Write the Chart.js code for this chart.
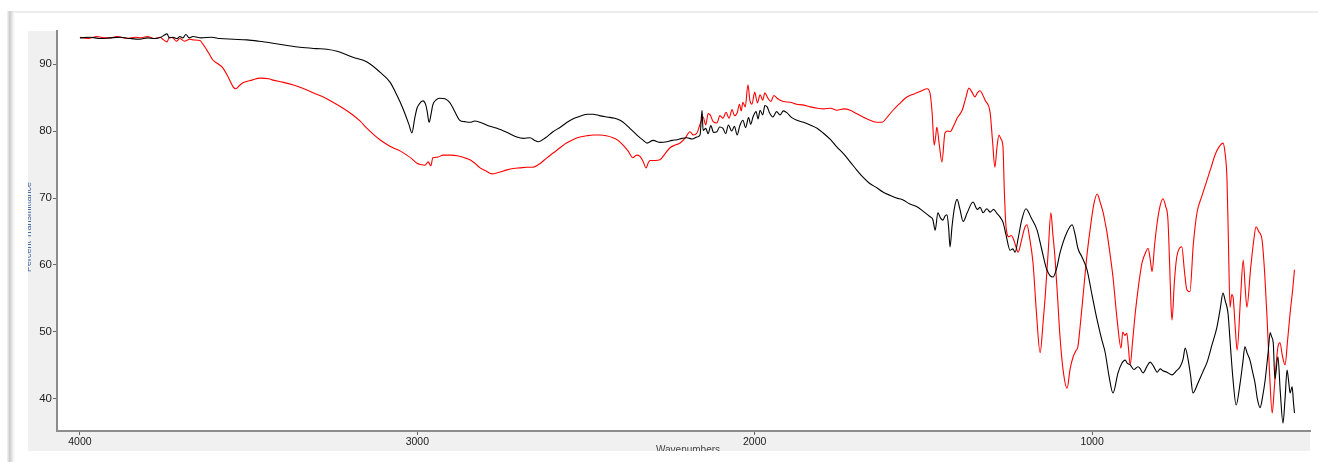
<!DOCTYPE html>
<html>
<head>
<meta charset="utf-8">
<script src="https://cdn.jsdelivr.net/npm/chart.js@4.4.1/dist/chart.umd.min.js"></script>
<style>
  html, body { margin: 0; padding: 0; background: #fff; overflow: hidden; }
  #wrap { position: absolute; left: 0; top: 0; width: 1318px; height: 462px; }
</style>
</head>
<body>
<div id="wrap"><canvas id="c" width="1318" height="462"></canvas></div>
<script>
// Sample spectrum (black trace): wavenumber (cm-1) and percent transmittance
const waveBlack = [4000,3970,3940,3911,3880,3850,3822,3800,3780,3760,3742,3735,3724,3712,3704,3695,3686,3676,3665,3640,3610,3585,3545,3505,3470,3428,3390,3348,3300,3268,3238,3191,3149,3111,3081,3060,3043,3025,3016,3008,3001,2990,2983,2975,2971,2965,2959,2954,2943,2933,2918,2903,2890,2874,2860,2844,2830,2814,2790,2764,2735,2705,2685,2666,2652,2642,2620,2598,2575,2556,2535,2518,2495,2479,2460,2438,2415,2399,2385,2370,2349,2330,2319,2301,2280,2260,2245,2230,2215,2201,2185,2171,2162,2156,2153,2145,2138,2130,2122,2112,2104,2094,2086,2078,2068,2060,2052,2044,2035,2027,2018,2012,2005,1996,1990,1984,1976,1970,1963,1955,1946,1935,1925,1915,1904,1890,1875,1855,1836,1815,1797,1775,1756,1735,1717,1698,1679,1660,1637,1620,1599,1580,1560,1540,1519,1500,1480,1472,1465,1457,1449,1442,1436,1430,1425,1421,1415,1408,1400,1392,1382,1370,1353,1340,1332,1323,1312,1302,1292,1282,1272,1264,1255,1243,1235,1228,1219,1208,1196,1180,1163,1150,1134,1116,1105,1095,1075,1059,1050,1042,1030,1015,1000,985,972,961,950,938,923,912,902,895,887,876,864,857,849,838,828,818,807,798,790,778,763,750,739,730,724,715,708,701,686,672,659,645,630,620,612,605,597,590,582,573,561,553,547,540,532,524,517,510,502,495,487,478,472,468,463,458,449,442,434,428,422,417,413,407,403,400];
const transBlack = [93.9,94.0,93.8,93.9,94.0,93.8,93.7,93.9,93.8,94.0,94.5,93.9,94.0,93.8,94.1,93.9,94.4,93.9,94.1,93.9,94.0,93.8,93.7,93.6,93.4,93.1,92.8,92.5,92.3,92.2,91.9,91.0,90.3,88.8,87.3,85.3,83.4,81.0,79.7,81.8,83.4,84.3,84.5,83.9,83.0,81.3,82.6,83.9,84.7,84.9,84.8,84.2,83.0,81.6,81.4,81.3,81.5,81.3,80.8,80.4,79.8,79.1,78.9,79.0,78.6,78.4,79.0,79.9,80.6,81.3,81.9,82.2,82.5,82.5,82.3,82.1,81.9,81.6,81.1,80.4,79.4,78.6,78.2,78.6,78.3,78.4,78.6,78.7,78.9,79.0,78.8,79.1,79.4,83.1,80.1,80.4,79.6,80.8,79.8,79.9,80.6,80.4,79.6,80.9,80.0,80.7,79.4,80.8,81.6,80.5,82.0,81.0,82.1,82.9,81.8,83.1,82.4,83.8,83.6,82.6,82.1,82.9,82.4,83.0,82.7,82.0,81.6,81.3,80.9,80.4,79.7,78.7,77.6,76.5,75.4,74.2,73.1,72.2,71.5,70.9,70.4,70.0,69.7,69.1,68.7,68.0,67.2,66.8,65.2,67.8,67.0,66.7,67.3,67.5,65.5,62.7,65.8,68.5,69.8,68.4,66.5,67.8,69.4,68.3,68.6,67.8,68.4,67.9,68.3,67.7,67.1,66.4,64.5,62.2,62.4,61.9,64.0,66.8,68.4,67.0,65.2,62.5,59.3,58.2,59.5,61.8,64.8,66.0,64.5,62.5,61.2,59.3,55.5,51.8,49.0,46.9,43.5,40.9,43.9,45.3,45.8,45.3,45.1,44.4,44.8,44.5,43.9,44.8,45.5,44.9,44.0,44.5,44.2,44.0,43.6,44.2,44.8,46.0,47.6,45.8,43.5,40.9,42.4,44.0,45.5,48.0,50.7,53.5,55.8,54.6,52.8,48.0,42.8,39.1,42.4,45.5,47.8,46.8,45.8,44.0,42.4,40.0,38.7,40.2,42.8,47.0,49.9,49.3,48.4,43.0,46.3,41.0,36.4,40.0,44.3,42.5,40.9,41.8,39.5,37.9];

// Reference spectrum (red trace)
const waveRed = [4000,3975,3950,3925,3911,3890,3860,3835,3822,3800,3780,3763,3752,3742,3735,3724,3714,3704,3690,3675,3665,3644,3636,3629,3618,3606,3590,3576,3560,3546,3538,3527,3517,3490,3466,3440,3428,3400,3369,3340,3309,3280,3250,3220,3191,3170,3149,3130,3111,3090,3072,3050,3031,3015,3001,2990,2977,2968,2960,2954,2940,2924,2900,2882,2860,2844,2830,2814,2795,2779,2760,2734,2715,2696,2675,2657,2635,2616,2595,2577,2558,2539,2518,2497,2478,2459,2440,2420,2405,2390,2375,2361,2350,2340,2331,2322,2315,2310,2295,2281,2266,2251,2236,2221,2205,2192,2182,2171,2162,2153,2145,2138,2132,2123,2112,2103,2094,2085,2076,2067,2060,2052,2045,2040,2035,2028,2020,2014,2008,2000,1992,1984,1976,1970,1963,1952,1943,1934,1915,1895,1876,1857,1835,1815,1795,1775,1756,1735,1717,1698,1679,1658,1637,1623,1605,1590,1572,1554,1535,1519,1505,1489,1480,1474,1468,1464,1460,1453,1445,1436,1428,1421,1410,1400,1385,1375,1365,1356,1347,1340,1332,1325,1317,1302,1295,1288,1282,1276,1270,1264,1260,1255,1246,1240,1234,1226,1219,1210,1200,1193,1185,1175,1165,1154,1145,1139,1130,1122,1116,1110,1102,1095,1085,1074,1065,1056,1048,1042,1035,1027,1015,1006,995,985,975,967,960,956,945,938,926,914,909,903,897,892,887,880,872,862,852,840,834,828,822,815,807,798,790,782,775,770,766,763,756,749,741,734,726,719,710,700,689,675,659,647,635,624,612,606,600,596,591,586,582,576,570,560,552,546,541,530,520,514,506,496,488,481,474,466,460,455,449,443,436,428,420,413,405,400];
const transRed = [94.0,93.8,94.1,93.9,93.9,94.1,93.8,94.0,93.9,94.1,93.8,94.0,93.6,93.3,94.0,93.9,93.4,93.8,93.4,93.7,93.6,93.5,93.0,92.5,91.6,90.6,90.0,89.4,88.0,86.6,86.3,86.8,87.2,87.6,87.9,87.8,87.6,87.3,86.9,86.4,85.7,85.1,84.3,83.4,82.4,81.5,80.4,79.5,78.7,78.0,77.5,77.0,76.4,75.8,75.2,75.0,74.9,75.4,74.8,76.0,76.1,76.4,76.4,76.3,76.0,75.7,75.2,74.5,74.0,73.6,73.8,74.2,74.4,74.5,74.6,74.6,75.2,76.0,76.8,77.5,78.2,78.7,79.1,79.3,79.4,79.4,79.3,79.0,78.6,77.9,77.0,76.0,76.4,76.2,75.5,74.5,75.3,75.6,75.6,75.7,76.6,77.5,77.9,78.2,79.0,79.9,79.4,79.7,81.0,82.1,80.9,82.6,82.4,81.4,81.2,82.3,81.9,82.8,81.9,83.2,82.3,82.7,84.0,83.0,84.3,83.6,86.9,84.5,84.0,85.8,84.2,85.4,84.6,85.7,85.1,84.4,85.3,84.9,84.4,84.3,84.0,83.9,83.6,83.4,83.3,83.4,83.1,83.3,83.1,82.6,82.1,81.6,81.3,81.3,82.2,83.1,84.0,84.9,85.4,85.7,86.0,86.3,85.6,82.7,77.9,79.0,80.6,78.0,75.4,79.7,80.0,79.9,80.8,81.9,83.1,84.8,86.4,85.8,85.1,85.7,86.0,85.5,84.6,82.7,78.5,74.6,77.5,79.4,78.8,77.6,71.0,65.7,64.2,64.4,64.0,62.8,61.9,63.5,65.5,66.0,64.0,60.3,53.0,46.9,51.5,55.2,62.0,67.8,64.5,61.2,55.0,49.3,44.0,41.6,44.5,46.3,47.2,47.8,51.0,55.2,61.5,65.2,69.0,70.6,69.2,67.8,66.0,64.9,61.0,58.2,52.0,47.6,50.0,49.5,49.8,47.5,45.1,48.5,52.8,57.0,60.3,62.0,62.5,61.0,59.0,62.8,66.3,68.9,69.9,68.8,66.7,60.0,54.0,51.8,57.5,61.2,62.5,62.7,59.0,56.3,56.0,63.0,67.8,70.2,72.7,74.6,76.5,77.6,78.2,76.8,72.7,64.0,53.7,55.6,55.2,51.0,47.3,55.0,60.7,56.5,53.7,59.5,64.0,65.7,65.0,63.7,58.5,51.8,44.0,37.9,41.5,44.8,47.8,48.4,46.5,45.1,49.0,52.8,56.5,59.3];

// Axis tick labels
const xTickValues = [4000, 3000, 2000, 1000];
const yTickValues = [40, 50, 60, 70, 80, 90];

const toPoints = (xs, ys) => xs.map((x, i) => ({ x: x, y: ys[i] }));

// Window frame, grey panel and white plotting area behind the chart
const framePlugin = {
  id: 'frame',
  beforeDraw(chart) {
    const ctx = chart.ctx;
    const a = chart.chartArea;
    ctx.save();
    ctx.fillStyle = '#ffffff';
    ctx.fillRect(0, 0, chart.width, chart.height);
    // soft frame edge at top and left
    ctx.fillStyle = '#ededed';
    ctx.fillRect(10, 11, chart.width - 10, 2);
    const g = ctx.createLinearGradient(7, 0, 15, 0);
    g.addColorStop(0, 'rgba(225,225,225,0.4)');
    g.addColorStop(0.35, 'rgba(200,200,200,1)');
    g.addColorStop(1, 'rgba(245,245,245,0.3)');
    ctx.fillStyle = g;
    ctx.fillRect(7, 11, 8, chart.height - 11);
    // grey panel
    ctx.fillStyle = '#f0f0f0';
    ctx.fillRect(28, 31, 1310 - 28, 451 - 31);
    ctx.fillStyle = '#ffffff';
    ctx.fillRect(a.left, a.top, a.right - a.left, a.bottom - a.top);
    ctx.restore();
  },
  afterDraw(chart) {
    const ctx = chart.ctx;
    const a = chart.chartArea;
    ctx.save();
    // y axis title, partly hidden by the panel edge
    ctx.beginPath();
    ctx.rect(28, 31, 20, 420);
    ctx.clip();
    ctx.translate(29, (a.top + a.bottom) / 2 - 4);
    ctx.rotate(-Math.PI / 2);
    ctx.fillStyle = '#4a6fa5';
    ctx.font = '9px "Liberation Sans", Arial, sans-serif';
    ctx.textAlign = 'center';
    ctx.textBaseline = 'middle';
    ctx.fillText('Percent Transmittance', 0, 0);
    ctx.restore();

    // x axis title, cut by the bottom of the panel
    ctx.save();
    ctx.beginPath();
    ctx.rect(28, 431, 1282, 20);
    ctx.clip();
    ctx.fillStyle = '#444';
    ctx.font = '10px "Liberation Sans", Arial, sans-serif';
    ctx.textAlign = 'center';
    ctx.textBaseline = 'top';
    ctx.fillText('Wavenumbers', 688, 445);
    ctx.restore();
  }
};

new Chart(document.getElementById('c'), {
  type: 'line',
  data: {
    datasets: [
      {
        data: toPoints(waveBlack, transBlack),
        borderColor: '#000000',
        borderWidth: 1.1,
        pointRadius: 0,
        cubicInterpolationMode: 'monotone',
        fill: false
      },
      {
        data: toPoints(waveRed, transRed),
        borderColor: '#ff0000',
        borderWidth: 1.1,
        pointRadius: 0,
        cubicInterpolationMode: 'monotone',
        fill: false
      }
    ]
  },
  options: {
    responsive: false,
    animation: false,
    events: [],
    layout: { padding: { left: 28, top: 31, right: 8, bottom: 11 } },
    plugins: { legend: { display: false }, tooltip: { enabled: false } },
    scales: {
      x: {
        type: 'linear',
        reverse: true,
        min: 354,
        max: 4068,
        afterBuildTicks: s => { s.ticks = xTickValues.map(v => ({ value: v })); },
        afterFit: s => { s.height = 20; },
        grid: { drawOnChartArea: false, drawTicks: true, tickLength: 4, color: '#666' },
        border: { color: '#8c8c8c', width: 2 },
        ticks: {
          autoSkip: false, maxRotation: 0, padding: 1, color: '#222',
          font: { family: '"Liberation Sans", Arial, sans-serif', size: 10.5 },
          callback: v => String(v)
        }
      },
      y: {
        min: 35.22,
        max: 94.93,
        afterBuildTicks: s => { s.ticks = yTickValues.map(v => ({ value: v })); },
        afterFit: s => { s.width = 29; },
        grid: { drawOnChartArea: false, drawTicks: true, tickLength: 4, color: '#666' },
        border: { color: '#8c8c8c', width: 2 },
        ticks: {
          padding: 1, color: '#222',
          font: { family: '"Liberation Sans", Arial, sans-serif', size: 11.5 },
          callback: v => String(v)
        }
      }
    }
  },
  plugins: [framePlugin]
});
</script>
</body>
</html>
